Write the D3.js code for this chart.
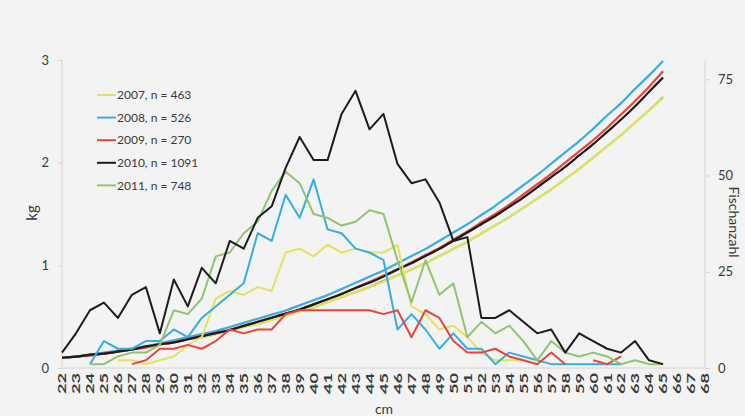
<!DOCTYPE html>
<html>
<head>
<meta charset="utf-8">
<script src="https://cdn.jsdelivr.net/npm/d3@7/dist/d3.min.js"></script>
<style>
  html, body { margin: 0; padding: 0; background: #f3f3f3; }
  svg { display: block; font-family: Lato, "Open Sans", sans-serif; }
</style>
</head>
<body>
<svg id="chart" width="745" height="416"></svg>
<script>
// Length classes (cm) shown on the category axis
const categories = ["22","23","24","25","26","27","28","29","30","31","32","33","34","35",
  "36","37","38","39","40","41","42","43","44","45","46","47","48","49","50","51","52",
  "53","54","55","56","57","58","59","60","61","62","63","64","65","66","67","68"];

// Length classes that carry data (22 … 65 cm)
const dataLengths = categories.slice(0, 44);

const years = ["2007", "2008", "2009", "2010", "2011"];
const sampleSizes = [463, 526, 270, 1091, 748];

// Number of fish per length class (secondary axis)
const count2007 = [null,null,null,null,2,2,1,2,3,6,8,18,20,19,21,20,30,31,29,32,30,31,30,30,32,16,14,10,11,8,4,2,2,2,1,null,null,null,null,null,null,null,null,null];
const count2008 = [null,null,1,7,5,5,7,7,10,8,13,16,19,22,35,33,45,39,49,36,35,31,30,28,10,14,10,5,9,5,5,1,4,3,2,1,1,1,1,1,1,null,null,null];
const count2009 = [null,null,null,null,null,1,2,5,5,6,5,7,10,9,10,10,14,15,15,15,15,15,15,14,15,8,15,13,7,4,4,5,3,2,1,4,1,null,2,1,3,null,null,null];
const count2010 = [4,9,15,17,13,19,21,9,23,16,26,22,33,31,39,42,52,60,54,54,66,72,62,66,53,48,49,43,33,34,13,13,15,12,9,10,4,9,7,5,4,7,2,1];
const count2011 = [null,null,1,1,3,4,4,6,15,14,18,29,30,35,38,46,51,48,40,39,37,38,41,40,28,17,28,19,22,8,12,9,11,7,2,7,4,3,4,3,1,2,1,1];

// Mean weight per length class (kg, primary axis)
const weight2007 = [0.10,0.11,0.13,0.14,0.16,0.18,0.20,0.23,0.25,0.28,0.30,0.33,0.36,0.40,0.43,0.47,0.51,0.55,0.59,0.64,0.69,0.74,0.79,0.84,0.90,0.96,1.02,1.09,1.16,1.23,1.31,1.39,1.47,1.56,1.65,1.74,1.84,1.94,2.05,2.16,2.27,2.39,2.51,2.63];
const weight2008 = [0.10,0.11,0.13,0.15,0.17,0.19,0.21,0.24,0.27,0.30,0.33,0.36,0.40,0.44,0.48,0.52,0.56,0.61,0.66,0.71,0.77,0.83,0.89,0.95,1.02,1.09,1.16,1.24,1.32,1.40,1.49,1.58,1.68,1.78,1.88,1.99,2.10,2.21,2.33,2.46,2.58,2.72,2.85,2.99];
const weight2009 = [0.10,0.11,0.12,0.14,0.16,0.18,0.20,0.23,0.25,0.28,0.31,0.34,0.37,0.41,0.45,0.49,0.53,0.57,0.62,0.67,0.72,0.78,0.84,0.90,0.96,1.03,1.10,1.17,1.25,1.33,1.42,1.50,1.59,1.69,1.79,1.89,2.00,2.11,2.22,2.34,2.47,2.60,2.74,2.89];
const weight2010 = [0.10,0.11,0.13,0.14,0.16,0.18,0.21,0.23,0.25,0.28,0.31,0.34,0.37,0.41,0.45,0.49,0.53,0.57,0.62,0.67,0.72,0.78,0.83,0.89,0.96,1.02,1.09,1.16,1.24,1.32,1.40,1.48,1.57,1.66,1.76,1.86,1.96,2.07,2.18,2.30,2.42,2.55,2.69,2.83];
const weight2011 = [0.10,0.11,0.13,0.14,0.16,0.18,0.20,0.23,0.25,0.28,0.30,0.33,0.36,0.40,0.43,0.47,0.51,0.55,0.59,0.64,0.69,0.74,0.79,0.85,0.90,0.96,1.02,1.09,1.16,1.23,1.31,1.39,1.47,1.56,1.65,1.74,1.84,1.94,2.05,2.16,2.27,2.39,2.51,2.64];

const kgTicks = [0, 1, 2, 3];
const countTicks = [0, 25, 50, 75];

const colors = ["#e2e35c", "#38ade2", "#e8463d", "#1c1c1c", "#8ec470"];
const counts = [count2007, count2008, count2009, count2010, count2011];
const weights = [weight2007, weight2008, weight2009, weight2010, weight2011];

const svg = d3.select("#chart");
const axisColor = "#d4d4d4";
const textColor = "#3a3a3a";

const x = d3.scalePoint().domain(categories).range([62, 705]);
const yKg = d3.scaleLinear().domain([0, 3]).range([368, 60]);
const yN = d3.scaleLinear().domain([0, 80]).range([368, 60]);

// Axes
const gLeft = svg.append("g").attr("transform", "translate(62,0)")
  .call(d3.axisLeft(yKg).tickValues(kgTicks).tickSize(4).tickPadding(9).tickFormat(d3.format("d")));
const gRight = svg.append("g").attr("transform", "translate(705,0)")
  .call(d3.axisRight(yN).tickValues(countTicks).tickSize(5).tickPadding(8).tickFormat(d3.format("d")));
const gBottom = svg.append("g").attr("transform", "translate(0,368)")
  .call(d3.axisBottom(x).tickSize(0).tickPadding(0));

[gLeft, gRight].forEach(g => {
  g.select(".domain").attr("stroke", axisColor);
  g.selectAll(".tick line").attr("stroke", axisColor);
  g.selectAll(".tick text").attr("fill", textColor).attr("font-size", 13)
    .attr("font-family", "Lato, 'Open Sans', sans-serif");
});
gLeft.select(".domain").attr("d", "M0,60V368");
gRight.select(".domain").attr("d", "M0,60V368");
gBottom.select(".domain").attr("stroke", axisColor).attr("d", "M62,0H705");
// Category labels: rotated, reading upwards, stretched along their length
gBottom.selectAll(".tick text")
  .attr("fill", textColor).attr("font-size", 11).attr("font-weight", "bold")
  .attr("font-family", "Lato, 'Open Sans', sans-serif")
  .attr("text-anchor", "end")
  .attr("dy", "0.35em")
  .attr("transform", "translate(0,5) rotate(-90) scale(1.65,1)")
  .attr("y", 0).attr("x", 0);

// Weight curves (primary axis)
const kgLine = d3.line()
  .defined(d => d[1] != null)
  .x(d => x(d[0]))
  .y(d => yKg(d[1]))
  .curve(d3.curveMonotoneX);

const curveOrder = [4, 0, 1, 2, 3];
curveOrder.forEach(i => {
  svg.append("path")
    .datum(dataLengths.map((c, k) => [c, weights[i][k]]))
    .attr("fill", "none")
    .attr("stroke", colors[i])
    .attr("stroke-width", 2.2)
    .attr("d", kgLine);
});

// Count lines (secondary axis)
const nLine = d3.line()
  .defined(d => d[1] != null)
  .x(d => x(d[0]))
  .y(d => yN(d[1]));

const countOrder = [0, 1, 2, 4, 3];
countOrder.forEach(i => {
  svg.append("path")
    .datum(dataLengths.map((c, k) => [c, counts[i][k]]))
    .attr("fill", "none")
    .attr("stroke", colors[i])
    .attr("stroke-width", 2)
    .attr("stroke-linejoin", "round")
    .attr("d", nLine);
});

// Legend
const legend = svg.append("g");
years.forEach((yr, i) => {
  const yy = 95 + i * 22.6;
  legend.append("line")
    .attr("x1", 97).attr("x2", 116).attr("y1", yy).attr("y2", yy)
    .attr("stroke", colors[i]).attr("stroke-width", 2);
  legend.append("text")
    .attr("x", 117).attr("y", yy).attr("dy", "0.35em")
    .attr("font-size", 12).attr("fill", textColor)
    .text(`${yr}, n = ${sampleSizes[i]}`);
});

// Axis titles
svg.append("text")
  .attr("transform", "translate(37,213) rotate(-90)")
  .attr("text-anchor", "middle").attr("font-size", 15).attr("fill", textColor)
  .text("kg");
svg.append("text")
  .attr("x", 384).attr("y", 414)
  .attr("text-anchor", "middle").attr("font-size", 14).attr("fill", textColor)
  .text("cm");
svg.append("text")
  .attr("transform", "translate(729,222) rotate(90)")
  .attr("text-anchor", "middle").attr("font-size", 14).attr("fill", textColor)
  .text("Fischanzahl");
</script>
</body>
</html>
